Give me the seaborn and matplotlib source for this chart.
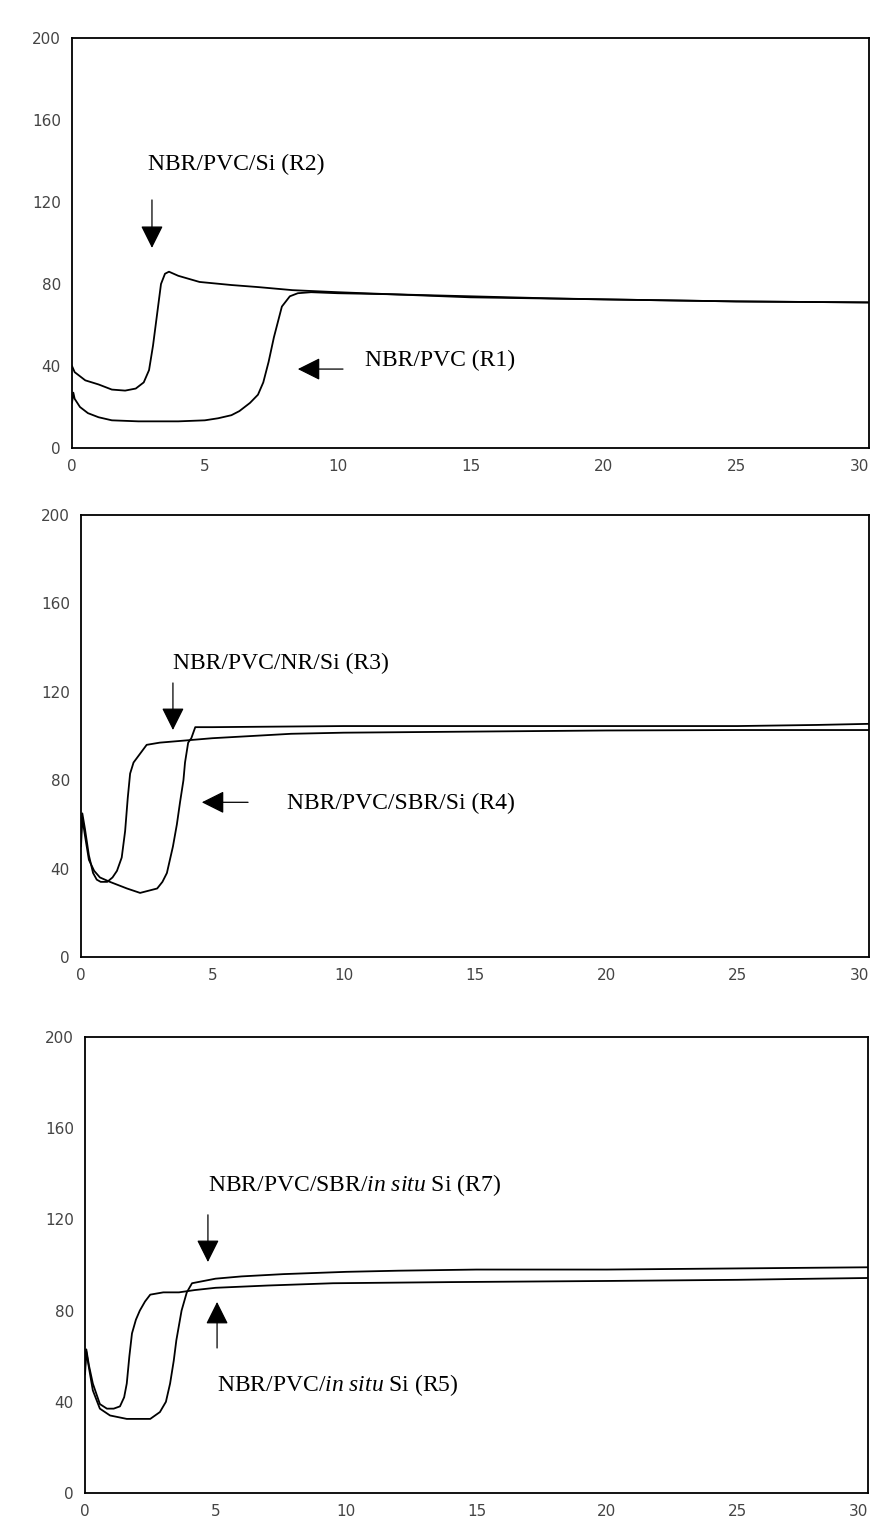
import matplotlib
matplotlib.use("Agg")
import matplotlib.pyplot as plt
import seaborn as sns
import pandas as pd

# ---------------- data (time, min ; torque) ----------------
r2_t = [0, 0.1, 0.5, 1.0, 1.5, 2.0, 2.4, 2.7, 2.9, 3.05, 3.2, 3.35, 3.5, 3.65, 4.0, 4.8, 6.0, 7.0, 8.3, 10, 12, 15, 18, 20, 25, 30]
r2_y = [40, 37, 33, 31, 28.5, 28, 29, 32, 38, 50, 65, 80, 85, 86, 84, 81, 79.5, 78.5, 77, 76, 75, 74, 73, 72.5, 71.5, 71]

r1_t = [0, 0.05, 0.1, 0.3, 0.6, 1.0, 1.5, 2.5, 4.0, 5.0, 5.5, 6.0, 6.3, 6.7, 7.0, 7.2, 7.4, 7.6, 7.9, 8.2, 8.5, 9, 10, 12, 15, 20, 25, 30]
r1_y = [22, 27, 24, 20, 17, 15, 13.5, 13, 13, 13.5, 14.5, 16, 18, 22, 26, 32, 42, 54, 69, 74, 75.5, 76, 75.5, 75, 73.5, 72.5, 71.5, 71]

r3_t = [0, 0.05, 0.15, 0.3, 0.46, 0.6, 0.75, 1.0, 1.2, 1.37, 1.55, 1.68, 1.78, 1.87, 2.0, 2.25, 2.5, 3.0, 3.5, 4.0, 5.0, 8, 10, 15, 20, 25, 30]
r3_y = [55, 65, 58, 46, 38, 35, 34, 34, 36, 39, 45, 57, 72, 83, 88, 92, 96, 97, 97.5, 98, 99, 101, 101.5, 102, 102.5, 102.7, 102.7]

r4_t = [0, 0.05, 0.15, 0.3, 0.5, 0.72, 1.1, 1.75, 2.25, 2.9, 3.1, 3.27, 3.5, 3.65, 3.77, 3.9, 3.96, 4.08, 4.2, 4.35, 5, 10, 15, 20, 25, 28, 30]
r4_y = [50, 63, 55, 44, 39, 36, 34, 31, 29, 31, 34, 38, 50, 60, 70, 80, 88, 97, 99, 104, 104, 104.5, 104.5, 104.5, 104.5, 105, 105.5]

r5_t = [0, 0.05, 0.15, 0.3, 0.57, 0.84, 1.1, 1.34, 1.5, 1.6, 1.7, 1.8, 1.95, 2.1, 2.3, 2.5, 3.0, 3.6, 4.2, 5.0, 7, 9.5, 14, 20, 25, 28, 30]
r5_y = [55, 63, 56, 48, 39, 37, 37, 38, 42, 48, 60, 70, 76, 80, 84, 87, 88, 88, 89, 90, 91, 92, 92.5, 93, 93.5, 94, 94.3]

r7_t = [0, 0.05, 0.15, 0.3, 0.57, 0.96, 1.6, 2.5, 2.87, 3.1, 3.26, 3.4, 3.5, 3.7, 3.9, 4.1, 5.0, 6, 7.6, 10, 12, 15, 20, 25, 30]
r7_y = [52, 62, 55, 45, 37, 34, 32.5, 32.5, 35.5, 40, 48, 58, 67, 80, 88, 92, 94, 95, 96, 97, 97.5, 98, 98, 98.5, 99]

x_ticks = [0, 5, 10, 15, 20, 25, 30]
y_ticks = [0, 40, 80, 120, 160, 200]

# ---------------- style ----------------
sns.set_style("white")
plt.rcParams["font.family"] = ["DejaVu Sans"]
plt.rcParams["mathtext.fontset"] = "custom"
plt.rcParams["mathtext.rm"] = "Liberation Serif"
plt.rcParams["mathtext.it"] = "Liberation Serif:italic"

W, H = 873, 1531
fig = plt.figure(figsize=(W / 100, H / 100), dpi=100)
fig.patch.set_facecolor("white")


def make_ax(l, r, t, b):
    return fig.add_axes([l / W, (H - b) / H, (r - l) / W, (b - t) / H])


panels = [
    dict(box=(72, 869, 38, 448), series=[(r2_t, r2_y), (r1_t, r1_y)]),
    dict(box=(81, 869, 515, 957), series=[(r3_t, r3_y), (r4_t, r4_y)]),
    dict(box=(85, 868, 1037, 1493), series=[(r5_t, r5_y), (r7_t, r7_y)]),
]

axes = []
for p in panels:
    ax = make_ax(*p["box"])
    for t, y in p["series"]:
        df = pd.DataFrame({"t": t, "y": y})
        sns.lineplot(data=df, x="t", y="y", ax=ax, color="black", lw=1.3,
                     estimator=None, sort=False)
    ax.set_xlim(0, 30)
    ax.set_ylim(0, 200)
    ax.set_xticks(x_ticks)
    ax.set_yticks(y_ticks)
    ax.set_xlabel("")
    ax.set_ylabel("")
    ax.tick_params(length=0, pad=8, labelsize=11, labelcolor="#444444")
    xl = ax.get_xticklabels()
    xl[-1].set_horizontalalignment("right")
    for s in ax.spines.values():
        s.set_visible(True)
        s.set_color("black")
        s.set_linewidth(1.3)
    axes.append(ax)

txt_kw = dict(family="Liberation Serif", fontsize=17, color="black", va="center", ha="left")
arr = dict(arrowstyle="-|>,head_length=1.0,head_width=0.5", mutation_scale=14,
           color="black", lw=0.9, shrinkA=0, shrinkB=0)

# panel 1
a = axes[0]
a.text(2.86, 138.5, "NBR/PVC/Si (R2)", **txt_kw)
a.annotate("", xy=(3.01, 97.6), xytext=(3.01, 121), arrowprops=arr)
a.text(11.03, 42.9, "NBR/PVC (R1)", **txt_kw)
a.annotate("", xy=(8.5, 38.5), xytext=(10.2, 38.5), arrowprops=arr)

# panel 2
a = axes[1]
a.text(3.5, 133, "NBR/PVC/NR/Si (R3)", **txt_kw)
a.annotate("", xy=(3.5, 102.7), xytext=(3.5, 124), arrowprops=arr)
a.text(7.84, 69.7, "NBR/PVC/SBR/Si (R4)", **txt_kw)
a.annotate("", xy=(4.6, 70), xytext=(6.36, 70), arrowprops=arr)

# panel 3
a = axes[2]
a.text(4.71, 135, r"NBR/PVC/SBR/$\mathit{in\ situ}$ Si (R7)", **txt_kw)
a.annotate("", xy=(4.71, 101.3), xytext=(4.71, 122), arrowprops=arr)
a.text(5.06, 47.4, r"NBR/PVC/$\mathit{in\ situ}$ Si (R5)", **txt_kw)
a.annotate("", xy=(5.06, 83.8), xytext=(5.06, 63.6), arrowprops=arr)

fig.savefig("out.png", dpi=100, facecolor="white")
